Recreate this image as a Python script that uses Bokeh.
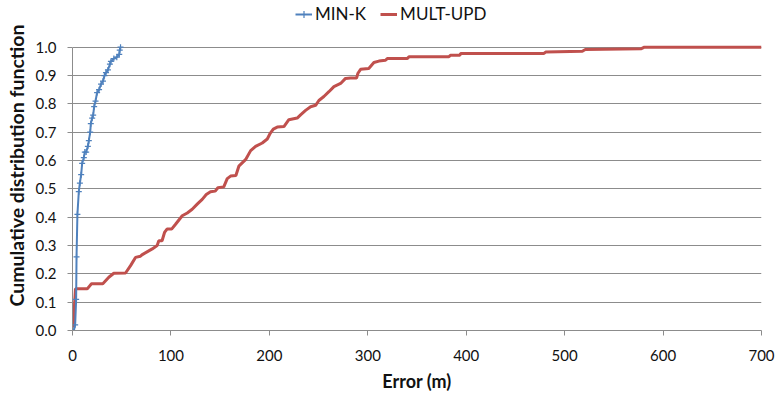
from bokeh.plotting import figure
from bokeh.models import Legend, LegendItem, FixedTicker, PrintfTickFormatter, Range1d
from bokeh.embed import file_html
from bokeh.resources import INLINE

# MIN-K series (error in m, CDF)
mink_x = [1.4, 2.7, 3.7, 4.1, 5.0, 6.4, 7.5, 8.8, 9.8, 11.5, 12.5, 13.9, 15.6, 16.6, 18.0,
          18.6, 20.0, 21.0, 22.0, 23.4, 25.0, 27.0, 29.0, 31.0, 32.5, 34.0, 36.0, 38.0,
          39.0, 42.0, 45.0, 47.5, 48.0, 48.8]
mink_y = [0.0, 0.02, 0.11, 0.26, 0.41, 0.49, 0.52, 0.55, 0.59, 0.61, 0.63, 0.63, 0.65, 0.67,
          0.70, 0.73, 0.75, 0.76, 0.79, 0.81, 0.84, 0.85, 0.87, 0.88, 0.90, 0.91, 0.92, 0.94,
          0.95, 0.96, 0.965, 0.975, 0.99, 1.0]

# MULT-UPD series (error in m, CDF)
mult_x = [0.7, 3.0, 15.0, 19.3, 30.8, 36.9, 42.0, 53.9, 59.0, 64.0, 69.0, 70.5, 81.0, 86.0,
          87.7, 91.0, 93.5, 96.0, 100.7, 104.7, 111.5, 116.6, 121.6, 126.7, 131.8, 135.9,
          140.2, 145.0, 147.7, 153.7, 155.5, 157.2, 160.6, 166.0, 169.0, 175.8, 181.0,
          186.0, 192.8, 197.9, 201.0, 204.0, 208.0, 214.8, 219.8, 228.3, 231.7, 236.8,
          241.9, 247.0, 250.3, 255.4, 260.5, 265.6, 272.4, 277.4, 282.5, 288.6, 290.0,
          292.7, 301.0, 306.2, 311.3, 318.0, 319.8, 340.0, 341.8, 382.4, 384.0, 393.6,
          394.3, 479.0, 480.7, 518.0, 521.0, 578.0, 581.0, 700.0]
mult_y = [0.01, 0.147, 0.147, 0.165, 0.165, 0.188, 0.202, 0.203, 0.229, 0.258, 0.262, 0.267,
          0.288, 0.30, 0.317, 0.317, 0.346, 0.358, 0.358, 0.375, 0.405, 0.415, 0.428, 0.446,
          0.463, 0.48, 0.49, 0.492, 0.504, 0.507, 0.522, 0.536, 0.545, 0.547, 0.58, 0.603,
          0.635, 0.65, 0.662, 0.676, 0.697, 0.711, 0.718, 0.72, 0.744, 0.75, 0.761, 0.777,
          0.79, 0.795, 0.812, 0.826, 0.843, 0.861, 0.872, 0.89, 0.891, 0.891, 0.908, 0.922,
          0.925, 0.946, 0.951, 0.954, 0.96, 0.96, 0.966, 0.966, 0.972, 0.972, 0.978, 0.978,
          0.983, 0.986, 0.992, 0.995, 1.0, 1.0]

x_ticks = [0, 100, 200, 300, 400, 500, 600, 700]
y_ticks = [0.0, 0.1, 0.2, 0.3, 0.4, 0.5, 0.6, 0.7, 0.8, 0.9, 1.0]

FONT = "Lato"
BLUE = "#4F81BD"
RED = "#C0504D"

# frame extends above 1.0 to leave room for the legend (1.0 sits 47px below the top)
p = figure(width=778, height=394, output_backend="svg", toolbar_location=None,
           x_range=Range1d(0, 700), y_range=Range1d(0, 1.0 + 47 / 285),
           min_border_left=72, min_border_right=17, min_border_top=0, min_border_bottom=62)
p.outline_line_color = None
p.background_fill_color = "white"
p.border_fill_color = "white"

p.xgrid.grid_line_color = None
p.ygrid.grid_line_color = "#8c8c8c"
p.ygrid.grid_line_width = 1
p.ygrid.ticker = FixedTicker(ticks=y_ticks)

r_mult = p.line(mult_x, mult_y, line_color=RED, line_width=3)
r_mink = p.line(mink_x, mink_y, line_color=BLUE, line_width=2)
r_minkm = p.scatter(mink_x, mink_y, marker="cross", size=6, line_color=BLUE, line_width=1.2)

p.xaxis.ticker = FixedTicker(ticks=x_ticks)
p.yaxis.ticker = FixedTicker(ticks=y_ticks)
p.yaxis.formatter = PrintfTickFormatter(format="%.1f")
p.yaxis.bounds = (0, 1.0)
for ax in (p.xaxis[0], p.yaxis[0]):
    ax.axis_line_color = "#8c8c8c"
    ax.major_tick_line_color = "#8c8c8c"
    ax.minor_tick_line_color = None
    ax.major_tick_in = 0
    ax.major_tick_out = 5
    ax.major_label_text_font = FONT
    ax.major_label_text_font_size = "15px"
    ax.major_label_text_color = "#111111"
    ax.axis_label_text_font = FONT
    ax.axis_label_text_font_style = "bold"
    ax.axis_label_text_color = "#111111"
p.xaxis.axis_label_text_font_size = "18px"
p.yaxis.axis_label_text_font_size = "19.5px"
p.xaxis.axis_label = "Error (m)"
p.yaxis.axis_label = "Cumulative distribution function"
p.xaxis.major_label_standoff = 14
p.yaxis.major_label_standoff = 11
p.xaxis.axis_label_standoff = 6
p.yaxis.axis_label_standoff = 5

legend = Legend(items=[LegendItem(label="MIN-K", renderers=[r_mink, r_minkm]),
                       LegendItem(label="MULT-UPD", renderers=[r_mult])],
                orientation="horizontal", location=(223, 306),
                label_text_font=FONT, label_text_font_size="17px", label_text_color="#111111",
                border_line_color=None, background_fill_alpha=0,
                glyph_width=17, label_standoff=3, spacing=14, padding=2, margin=0)
p.add_layout(legend)

open("out.html", "w").write(file_html(p, INLINE))
